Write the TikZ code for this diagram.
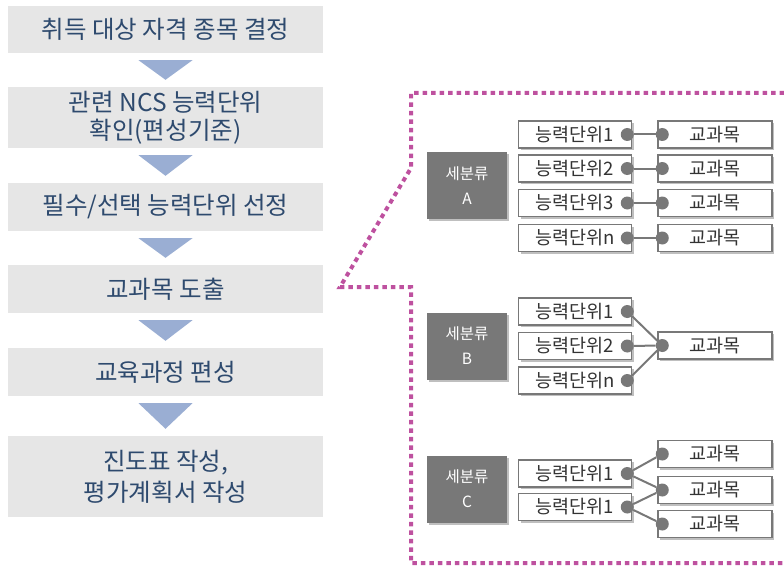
\documentclass[tikz,border=0pt]{standalone}
\usepackage{fontspec}
\setmainfont{Noto Sans CJK KR}
\usetikzlibrary{calc,shadows}
\definecolor{boxfill}{HTML}{E6E6E6}
\definecolor{navy}{HTML}{2E4A6E}
\definecolor{arrowc}{HTML}{9AAED3}
\definecolor{mag}{HTML}{BE519F}
\definecolor{darkg}{HTML}{787878}
\definecolor{txt}{HTML}{333333}
\begin{document}
\begin{tikzpicture}[x=1pt,y=-1pt,
  flow/.style={fill=boxfill, minimum width=315pt, inner sep=0pt, text=navy, align=center},
  flowtri/.style={fill=arrowc},
  sh/.style={drop shadow={shadow xshift=2pt, shadow yshift=-2pt, opacity=0.25, fill=black}},
  cat/.style={fill=darkg, minimum width=80pt, minimum height=67pt, inner sep=0pt, text=white, align=center, font=\fontsize{15.5}{25}\selectfont, sh},
  unit/.style={draw=darkg, line width=1.5pt, fill=white, minimum width=113pt, minimum height=27pt, inner sep=0pt, text=txt, font=\fontsize{18.5}{20}\selectfont, sh},
  course/.style={unit, minimum width=114pt},
  dot/.style={circle, fill=darkg, inner sep=0pt, minimum size=13pt},
  link/.style={draw=darkg, line width=2pt},
  callout/.style={draw=mag, line width=4pt, dash pattern=on 4.5pt off 4pt},
]
\useasboundingbox (0,0) rectangle (784,567);

% left flow
\node[flow, minimum height=47pt, font=\fontsize{24.5}{28}\selectfont] (b1) at (165.5,29.5) {취득 대상 자격 종목 결정};
\node[flow, minimum height=61pt, font=\fontsize{24.5}{28}\selectfont] (b2) at (165.5,117.5) {관련 NCS 능력단위\\확인(편성기준)};
\node[flow, minimum height=48pt, font=\fontsize{24.5}{28}\selectfont] (b3) at (165.5,207) {필수/선택 능력단위 선정};
\node[flow, minimum height=48pt, font=\fontsize{24.5}{28}\selectfont] (b4) at (165.5,289) {교과목 도출};
\node[flow, minimum height=48pt, font=\fontsize{24.5}{28}\selectfont] (b5) at (165.5,372) {교육과정 편성};
\node[flow, minimum height=81pt, font=\fontsize{24.5}{31}\selectfont] (b6) at (165.5,476.5) {진도표 작성,\\평가계획서 작성};

\foreach \a/\b in {b1/b2,b2/b3,b3/b4,b4/b5,b5/b6}{
  \fill[flowtri] ($(\a.south)+(-27,7)$) -- ($(\a.south)+(27,7)$) -- ($(\b.north)+(0,-7)$) -- cycle;
}

% callout border
\coordinate (c1) at (784,93);
\coordinate (c2) at (411,93);
\coordinate (c3) at (411,168);
\coordinate (c4) at (340,287);
\coordinate (c5) at (411,287);
\coordinate (c6) at (411,563);
\coordinate (c7) at (784,563);
\draw[callout] (c1) -- (c2) -- (c3) -- (c4) -- (c5) -- (c6) -- (c7);

% group A
\node[cat] (ca) at (467,185.5) {세분류\\A};
\foreach \i/\y/\t in {1/134.5/1,2/168.5/2,3/203/3,4/238/n}{
  \node[unit] (ua\i) at (575,\y) {능력단위\t};
  \node[course] (pa\i) at (715,\y) {교과목};
  \node[dot] (uda\i) at ($(ua\i.east)+(-5,0)$) {};
  \node[dot] (pda\i) at ($(pa\i.west)+(5,0)$) {};
  \draw[link] (uda\i) -- (pda\i);
}

% group B
\node[cat] (cb) at (467,346) {세분류\\B};
\node[course] (pb) at (715,345.5) {교과목};
\node[dot] (pdb) at ($(pb.west)+(5,0)$) {};
\foreach \i/\y/\t in {1/311.5/1,2/346/2,3/380.5/n}{
  \node[unit] (ub\i) at (575,\y) {능력단위\t};
  \node[dot] (udb\i) at ($(ub\i.east)+(-5,0)$) {};
  \draw[link] (udb\i) -- (pdb);
}

% group C
\node[cat] (cc) at (467,489) {세분류\\C};
\node[unit] (uc1) at (575,473.5) {능력단위1};
\node[unit] (uc2) at (575,507) {능력단위1};
\node[course] (pc1) at (715,454) {교과목};
\node[course] (pc2) at (715,490) {교과목};
\node[course] (pc3) at (715,524) {교과목};
\node[dot] (udc1) at ($(uc1.east)+(-5,0)$) {};
\node[dot] (udc2) at ($(uc2.east)+(-5,0)$) {};
\node[dot] (pdc1) at ($(pc1.west)+(5,0)$) {};
\node[dot] (pdc2) at ($(pc2.west)+(5,0)$) {};
\node[dot] (pdc3) at ($(pc3.west)+(5,0)$) {};
\draw[link] (udc1) -- (pdc1);
\draw[link] (udc1) -- (pdc2);
\draw[link] (udc2) -- (pdc2);
\draw[link] (udc2) -- (pdc3);
\end{tikzpicture}
\end{document}
